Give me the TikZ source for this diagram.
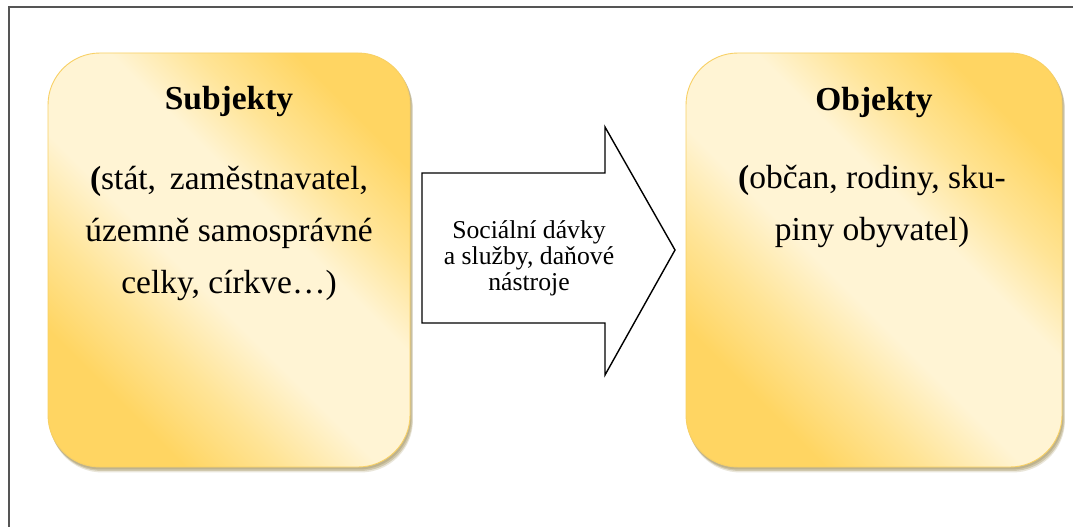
\documentclass[tikz,border=0pt]{standalone}
\usepackage{fontspec}
\setmainfont{Liberation Serif}
\newfontfamily\paneltext{Liberation Serif}
\usetikzlibrary{backgrounds}
\definecolor{goldD}{RGB}{255,213,98}
\definecolor{goldM}{RGB}{255,228,150}
\definecolor{goldL}{RGB}{255,244,212}
\definecolor{boxedge}{RGB}{248,208,100}
\definecolor{shadowc}{RGB}{150,132,72}
\definecolor{framec}{RGB}{85,85,85}
% diagonal wash: deep gold at two corners, pale cream through the middle
\pgfdeclareverticalshading{goldwash}{100bp}{%
  color(0bp)=(goldD); color(27bp)=(goldD); color(36bp)=(goldM);
  color(45bp)=(goldL); color(58bp)=(goldL); color(66bp)=(goldM);
  color(75bp)=(goldD); color(100bp)=(goldD)}
\begin{document}
\begin{tikzpicture}[x=1pt,y=-1pt,
  panel/.style={rounded corners=52pt, minimum height=414pt, inner sep=0pt,
    draw=boxedge, line width=0.9pt, shading=goldwash, shading angle=-45},
  bigtxt/.style={anchor=base, inner sep=0pt,
    font=\paneltext\fontsize{33.5}{40}\selectfont\frenchspacing},
  headtxt/.style={bigtxt, font=\paneltext\fontsize{33.5}{40}\selectfont\bfseries},
  flowtxt/.style={anchor=base, inner sep=0pt, font=\paneltext\fontsize{25.7}{30}\selectfont},
  blockarrow/.style={draw=black, line width=1.4pt, fill=white, line join=miter}
]
\path[use as bounding box, clip] (0,0) rectangle (1073,527);

% the two rounded panels
\node[panel, minimum width=362pt] (subj) at (229,260) {};
\node[panel, minimum width=376pt] (obj) at (874,260) {};

\begin{scope}[on background layer]
  \fill[white] (0,0) rectangle (1073,527);
  % outer frame (runs past the right and lower edge)
  \draw[framec, line width=2pt] (9,7.5) rectangle (1100,560);
  % soft drop shadows under the panels
  \foreach \p in {subj,obj}{
    \fill[shadowc, opacity=0.30, rounded corners=52pt]
      ([shift={(1,2)}]\p.south west) rectangle ([shift={(1,2)}]\p.north east);
    \fill[shadowc, opacity=0.30, rounded corners=52pt]
      ([shift={(2,3.5)}]\p.south west) rectangle ([shift={(2,3.5)}]\p.north east);
    \fill[shadowc, opacity=0.20, rounded corners=52pt]
      ([shift={(2.5,5)}]\p.south west) rectangle ([shift={(2.5,5)}]\p.north east);
  }
\end{scope}

% texts of the left panel
\node[headtxt] (subjhead) at (subj.center |- 0,109) {Subjekty};
\node[bigtxt] (subjl1) at (subj.center |- 0,189) {\makebox[278pt][s]{\textbf{(}stát, zaměstnavatel,}};
\node[bigtxt] (subjl2) at (subj.center |- 0,241) {územně samosprávné};
\node[bigtxt] (subjl3) at (subj.center |- 0,293) {celky, církve…)};

% texts of the right panel
\node[headtxt] (objhead) at (obj.center |- 0,110) {Objekty};
\node[bigtxt] (objl1) at (872,188) {\textbf{(}občan, rodiny, sku-};
\node[bigtxt] (objl2) at (872,240) {piny obyvatel)};

% block arrow between the panels
\draw[blockarrow] (422,173) -- (605,173) -- (605,127) -- (675,250)
  -- (605,375) -- (605,323) -- (422,323) -- cycle;
\node[flowtxt] (flow1) at (529,238) {Sociální dávky};
\node[flowtxt] (flow2) at (529,264) {a služby, daňové};
\node[flowtxt] (flow3) at (529,290) {nástroje};
\end{tikzpicture}
\end{document}
